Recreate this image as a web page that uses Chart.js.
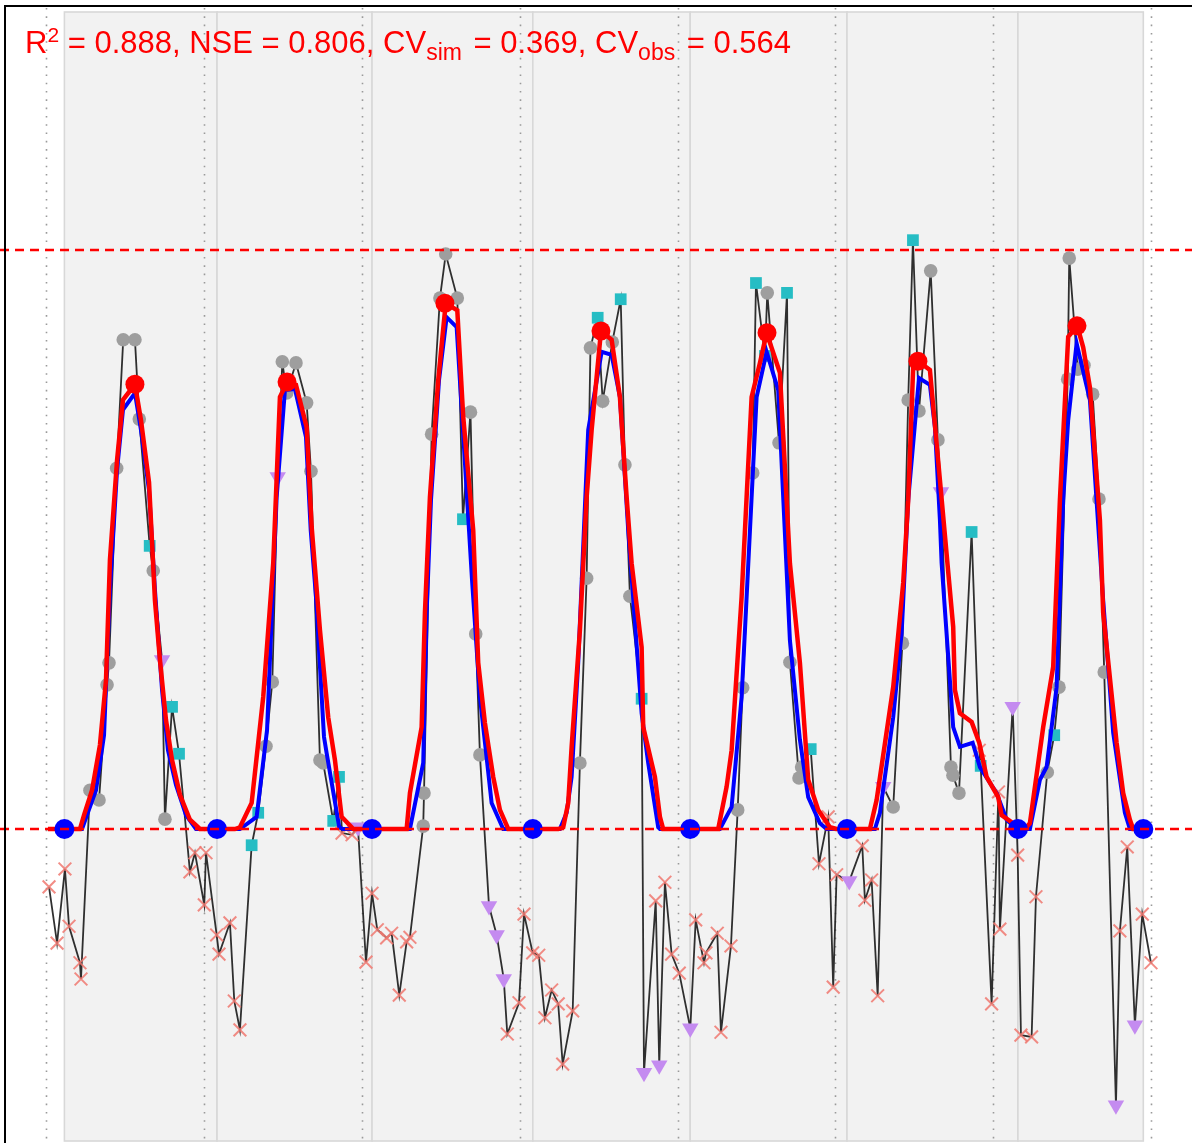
<!DOCTYPE html>
<html><head><meta charset="utf-8">
<script src="https://cdn.jsdelivr.net/npm/chart.js@4.4.1/dist/chart.umd.min.js"></script>
<style>html,body{margin:0;padding:0;background:#fff;overflow:hidden}#wrap{position:relative;width:1192px;height:1143px}</style>
</head><body><div id="wrap"><canvas id="c" width="1192" height="1143"></canvas></div>
<script>
// ---- observations (time in months from start of record, value relative scale: 0 = lower threshold, 100 = upper threshold)
const obsMonth = [0.23,0.84,1.44,1.75,2.58,2.66,3.34,4.03,4.64,4.79,5.37,5.87,6.76,7.09,7.88,8.15,8.82,9.04,9.58,10.11,10.94,11.32,12.03,12.16,12.97,13.15,13.98,14.31,14.74,
15.63,16.13,16.72,17.20,17.61,17.96,18.29,19.00,19.81,20.14,20.82,21.07,21.83,22.27,22.50,23.26,23.71,24.32,24.78,25.18,25.89,26.27,26.85,27.41,27.66,
28.67,28.73,29.31,29.94,30.38,31.26,31.69,32.26,32.66,32.98,33.67,34.25,34.79,35.06,35.95,36.33,36.99,37.45,37.92,38.43,38.93,39.27,40.03,
40.58,41.09,41.38,41.93,42.31,43.04,43.68,44.00,44.38,45.27,45.45,46.34,46.61,47.04,47.55,48.13,48.97,49.38,50.01,50.16,51.02,51.30,52.06,
52.57,52.95,53.71,53.96,54.64,54.82,55.71,56.32,56.54,57.23,57.43,58.12,58.75,59.45,59.83,60.09,61.05,62.04,62.24,62.75,63.21,
63.63,64.39,65.09,65.53,65.89,66.35,67.24,67.79,68.02,68.78,68.93,69.39,70.35,70.93,71.04,71.87,72.39,72.50,73.47,73.85,74.10,74.91,75.24,
76.10,76.63,76.99,77.65,77.77,78.41,78.89,79.55,80.03,80.43,81.32,81.62,82.18,82.76,83.32,83.98];
const obsValue = [-10.0,-19.7,-6.9,-16.8,-23.1,-25.9,6.7,5.0,24.9,28.7,62.3,84.5,84.5,70.8,48.9,44.6,29.2,1.7,21.1,13.0,-7.4,-4.1,-13.1,-4.1,-18.3,-21.6,-16.2,-29.7,-34.7,
-2.8,2.8,14.3,25.4,60.8,80.7,75.3,80.5,73.6,61.8,11.9,11.4,1.4,9.0,-0.7,-1.0,0.3,-23.0,-11.1,-17.4,-18.8,-18.0,-28.7,-19.5,-18.7,
0.5,6.2,68.2,91.7,99.3,91.7,53.5,72.0,33.7,12.8,-13.3,-18.3,-25.9,-35.4,-30.0,-14.7,-21.4,-21.8,-32.6,-27.8,-30.2,-40.6,-31.4,
11.4,43.3,83.1,88.3,73.9,84.1,91.5,62.9,40.2,22.5,-42.1,-12.4,-40.8,-9.2,-21.6,-24.9,-34.4,-15.7,-23.1,-21.4,-18.0,-35.1,-20.2,
3.3,24.4,61.5,94.3,81.7,92.6,66.7,92.6,28.8,8.8,10.7,13.8,-6.0,2.1,-27.3,-7.9,-9.0,-2.9,-12.3,-8.8,-28.8,
7.3,3.8,32.1,74.1,101.7,72.2,96.4,67.2,58.2,10.7,9.3,6.2,51.3,13.6,10.9,-30.2,6.4,-17.3,21.1,-4.5,-35.6,-35.9,-11.7,
9.8,16.2,24.5,77.7,98.6,79.4,80.1,75.1,57.0,27.1,-47.7,-17.6,-3.1,-33.9,-14.7,-23.1];
// c = regular obs, s = flagged (square), t = flagged (triangle), x = below threshold
const obsType = ("xxxxxx"+"cccccccc"+"sctcss"+"xxxxxxxxx"+
  "ss"+"cctccccccc"+"ss"+"xx"+"t"+"xxxxxxxx"+
  "cccccc"+"s"+"ccc"+"ttt"+"xxxxxxxxxx"+
  "ccc"+"s"+"cc"+"s"+"cc"+"s"+"t"+"x"+"t"+"xxx"+"t"+"xxxxxx"+
  "ccc"+"ss"+"cc"+"s"+"ccc"+"s"+"xxxx"+"t"+"xxxx"+
  "t"+"ccc"+"s"+"ccc"+"t"+"ccc"+"s"+"x"+"s"+"xxx"+"t"+"xxxx"+
  "c"+"s"+"cccccccc"+"t"+"xx"+"t"+"xx").split("");

// ---- simulated series
const simRedMonth = [0.15,2.58,2.89,3.50,4.10,4.56,4.86,5.40,5.85,6.76,7.22,7.83,8.28,8.66,9.12,9.58,10.18,10.94,11.70,
14.36,14.74,15.63,16.51,17.27,17.78,18.29,19.00,19.81,20.19,20.82,21.45,21.96,22.47,23.36,
27.41,27.66,28.55,28.80,29.18,29.81,30.38,31.26,31.71,32.47,32.85,33.36,33.99,34.50,35.13,
38.93,39.31,39.69,39.95,40.58,41.09,41.47,42.18,42.99,43.62,44.13,44.51,45.27,45.39,46.28,46.66,46.91,
51.09,51.73,52.11,52.87,53.63,54.26,54.77,55.78,56.54,57.30,57.93,58.69,59.58,60.09,
62.62,63.13,64.39,65.15,65.53,65.91,66.29,67.18,67.94,68.95,69.08,69.46,70.35,70.93,71.49,72.37,72.63,73.51,74.40,
74.78,75.79,76.55,77.06,77.69,78.38,78.83,79.34,80.10,80.35,81.37,81.87,82.38,82.63,83.37];
const simRedValue = [0,0,2.4,6.7,14.5,25.7,46.5,63.7,74.1,76.8,70.6,59.9,39.5,29.2,18.8,11.9,5.9,1.6,0,
0,0.3,4.5,22.8,45.9,74.6,77.0,76.7,69.4,52.2,34.4,19.3,11.9,2.1,0,
0,6.2,17.6,37.3,57.3,77.5,90.8,89.6,71.2,51.6,28.7,18.3,9.0,3.3,0,
0,0.3,4.5,14.2,34.4,57.3,68.9,86.0,84.5,74.6,57.3,45.9,31.4,17.6,9.0,2.1,0,
0,7.3,13.6,40.1,74.6,80.5,85.7,78.8,45.9,28.7,8.5,3.3,0.3,0,
0,5.0,24.5,42.5,56.8,79.8,80.8,79.3,60.3,34.9,24.0,20.0,18.5,14.9,9.0,5.5,2.4,1.0,0,
1.0,17.6,28.0,56.8,85.0,86.9,83.2,76.3,53.4,37.3,14.9,6.2,1.6,0,0];
const simBlueMonth = [0.15,2.74,3.19,3.80,4.41,4.86,5.40,5.85,6.76,7.22,7.83,8.28,8.82,9.27,9.88,10.64,11.40,
14.74,16.01,16.80,17.53,18.16,18.92,19.76,20.12,20.52,21.13,21.33,22.29,22.57,
27.66,28.67,28.93,29.26,29.87,30.45,31.21,31.69,32.38,32.98,33.87,34.75,
39.06,39.57,39.95,40.45,41.21,42.23,42.99,43.62,44.25,45.27,45.77,46.53,46.66,
51.22,52.11,52.87,54.01,54.77,55.65,56.54,57.30,57.93,58.82,59.33,
63.00,63.38,64.39,65.03,65.53,66.35,67.18,67.56,67.94,68.07,68.95,69.46,70.43,70.98,72.25,73.01,73.77,74.78,
75.54,76.05,76.81,77.31,77.69,78.33,79.34,80.35,81.11,82.00,82.38,83.37];
const simBlueValue = [0,0,2.9,6.7,16.2,41.3,62.0,72.4,75.3,68.9,58.5,41.3,24.0,13.6,7.6,2.4,0,
0,2.1,17.1,57.3,75.8,76.0,67.7,51.6,40.1,15.9,13.1,0.3,0,
0,11.4,37.3,56.8,77.5,88.4,86.7,68.9,43.0,22.8,4.5,0,
0,2.8,9.0,28.7,68.9,82.4,81.9,74.6,51.6,20.0,11.4,0.3,0,
0,3.8,22.8,74.6,82.4,75.8,32.6,15.4,5.5,1.0,0,
0,2.8,19.3,33.8,56.8,77.9,76.7,69.4,53.4,45.9,17.6,14.2,14.9,10.7,6.2,1.6,0,0,
8.5,10.7,24.5,56.8,70.6,83.9,74.1,39.5,16.6,2.8,0,0];

// ---- cycle markers
const troughMonth = [1.40,13.00,24.78,37.00,48.96,60.88,73.87,83.40];
const troughValue = [0,0,0,0,0,0,0,0];
const peakMonth = [6.76,18.32,30.32,42.18,54.80,66.27,78.36];
const peakValue = [76.8,77.2,90.8,86.0,85.7,80.8,86.9];
const yearLineMonth = [0,12,24,36,48,60,72,84];
const thresholdValues = [0,100];
const statR2 = "0.888", statNSE = "0.806", statCVsim = "0.369", statCVobs = "0.564";

// ---- build datasets
const pts = (xs, ys) => xs.map((x,i)=>({x:x, y:ys[i]}));
const obsPts = pts(obsMonth, obsValue);
const byType = t => obsPts.filter((p,i)=>obsType[i]===t);

const bgPlugin = {
  id:'bg',
  beforeDatasetsDraw(chart){
    const {ctx, chartArea:a, scales:{x}} = chart;
    ctx.save();
    const top = a.top + 12, bot = a.bottom - 2;
    for (let i=0;i<troughMonth.length-1;i++){
      const x0 = x.getPixelForValue(troughMonth[i]), x1 = x.getPixelForValue(troughMonth[i+1]);
      ctx.fillStyle = '#f2f2f2';
      ctx.fillRect(x0, top, x1-x0, bot-top);
      ctx.strokeStyle = '#d8d8d8'; ctx.lineWidth = 1.6;
      ctx.strokeRect(x0, top, x1-x0, bot-top);
    }
    ctx.strokeStyle = '#9a9a9a'; ctx.lineWidth = 1.6; ctx.setLineDash([1.6,6.7]);
    yearLineMonth.forEach(m=>{
      const px = Math.round(x.getPixelForValue(m))+0.5;
      ctx.beginPath(); ctx.moveTo(px, a.top+8); ctx.lineTo(px, a.bottom); ctx.stroke();
    });
    ctx.restore();
  }
};
const fgPlugin = {
  id:'fg',
  afterDatasetsDraw(chart){
    const {ctx, chartArea:a, scales:{y}} = chart;
    ctx.save();
    ctx.strokeStyle = '#FF0000'; ctx.lineWidth = 2.4; ctx.setLineDash([9,6]);
    thresholdValues.forEach(v=>{
      const py = y.getPixelForValue(v);
      ctx.beginPath(); ctx.moveTo(a.left, py); ctx.lineTo(a.right, py); ctx.stroke();
    });
    ctx.setLineDash([]);
    ctx.fillStyle = '#000';
    ctx.fillRect(a.left+4, a.top+5, 2, a.bottom-a.top);
    ctx.fillRect(a.left+4, a.top+5, a.right-a.left, 2);
    // stats text (plotmath-like: superscript / subscripts)
    const big = '31px "Liberation Sans", Arial, sans-serif';
    const small = '23px "Liberation Sans", Arial, sans-serif';
    const sup = '21px "Liberation Sans", Arial, sans-serif';
    const parts = [['R',big,0,0],['2',sup,-11.5,0],[' = '+statR2+', NSE = '+statNSE+', CV',big,0,0],['sim',small,6.5,3],
      [' = '+statCVsim+', CV',big,0,0],['obs',small,6.5,3],[' = '+statCVobs,big,0,0]];
    ctx.fillStyle = '#FF0000'; ctx.textBaseline = 'alphabetic'; ctx.textAlign = 'left';
    let tx = a.left + 25; const base = a.top + 53;
    parts.forEach(([s,f,dy,gap])=>{ ctx.font = f; ctx.fillText(s, tx, base+dy); tx += ctx.measureText(s).width + gap; });
    ctx.restore();
  }
};

new Chart(document.getElementById('c'), {
  type:'scatter',
  data:{datasets:[
    {type:'line', data:pts(peakMonth,peakValue), showLine:false, pointRadius:9.5, pointBackgroundColor:'#FF0000', pointBorderWidth:0, order:0},
    {type:'line', data:pts(troughMonth,troughValue), showLine:false, pointRadius:10, pointBackgroundColor:'#0000FF', pointBorderWidth:0, order:1},
    {type:'line', data:pts(simRedMonth,simRedValue), borderColor:'#FF0000', borderWidth:4.5, pointRadius:0, tension:0, fill:false, order:2},
    {type:'line', data:pts(simBlueMonth,simBlueValue), borderColor:'#0000FF', borderWidth:4, pointRadius:0, tension:0, fill:false, order:3},
    {data:byType('x'), pointStyle:'crossRot', pointRadius:9, borderColor:'rgba(240,120,112,0.85)', pointBorderWidth:2, order:4},
    {data:byType('t'), pointStyle:'triangle', rotation:180, pointRadius:9.5, pointBackgroundColor:'#C48BF0', pointBorderWidth:0, order:5},
    {data:byType('s'), pointStyle:'rect', pointRadius:8.3, pointBackgroundColor:'#26BDC4', pointBorderWidth:0, order:6},
    {data:byType('c'), pointStyle:'circle', pointRadius:6.8, pointBackgroundColor:'#9E9E9E', pointBorderWidth:0, order:7},
    {type:'line', data:obsPts, borderColor:'rgba(25,25,25,0.9)', borderWidth:1.8, pointRadius:0, tension:0, fill:false, order:8}
  ]},
  options:{
    responsive:false, animation:false, devicePixelRatio:1,
    layout:{padding:0, autoPadding:false},
    plugins:{legend:{display:false}, tooltip:{enabled:false}},
    scales:{
      x:{type:'linear', display:false, min:-3.496, max:87.10},
      y:{type:'linear', display:false, min:-54.23, max:143.18}
    }
  },
  plugins:[bgPlugin, fgPlugin]
});
</script></body></html>
